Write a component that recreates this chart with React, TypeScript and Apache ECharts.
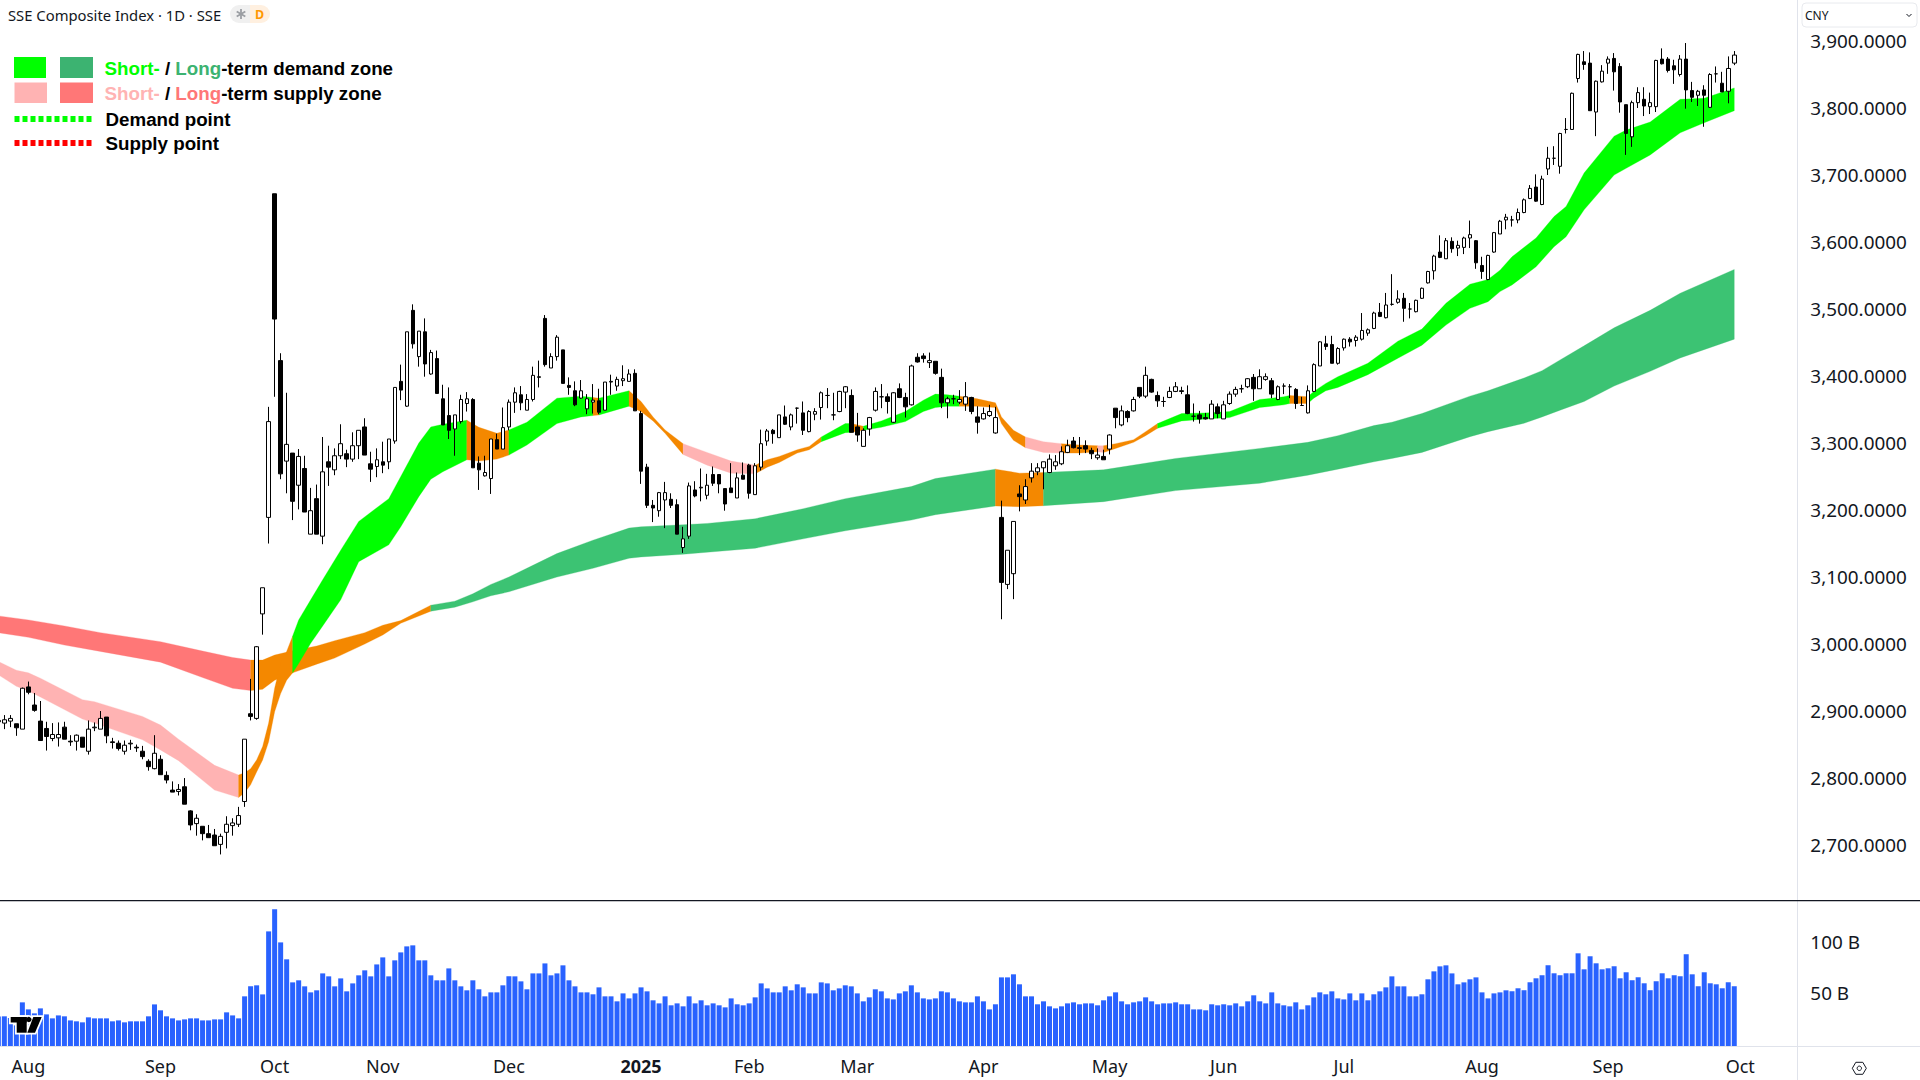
import React, { useEffect, useRef } from "react";
import * as echarts from "echarts";

const FONT = '"Noto Sans", sans-serif';
const LEGEND_FONT = '"Liberation Sans", Arial, sans-serif';
const INK = "#131722";

const priceTicks = [2700, 2800, 2900, 3000, 3100, 3200, 3300, 3400, 3500, 3600, 3700, 3800, 3900];
const volumeTicks = [50, 100];
const monthTicks: [number, string][] = [
  [4, "Aug"], [26, "Sep"], [45, "Oct"], [63, "Nov"], [84, "Dec"], [106, "2025"], [124, "Feb"],
  [142, "Mar"], [163, "Apr"], [184, "May"], [203, "Jun"], [223, "Jul"], [246, "Aug"], [267, "Sep"], [289, "Oct"],
];

// [open, close, low, high]; first row is the bar clipped by the left edge of the chart
const candles = [
  [2885,2887,2878,2892],
  [2883,2888,2874,2895],[2886,2890,2877,2895],[2882,2876,2864,2882],[2874,2935,2874,2936],[2937,2929,2926,2945],
  [2910,2902,2900,2928],[2886,2857,2857,2916],[2875,2863,2842,2885],[2860,2866,2856,2883],[2861,2866,2848,2884],
  [2877,2859,2859,2885],[2856,2855,2849,2865],[2856,2865,2842,2866],[2862,2847,2847,2862],[2841,2874,2836,2887],
  [2876,2877,2871,2884],[2874,2890,2874,2901],[2892,2864,2853,2892],[2855,2854,2845,2861],[2853,2845,2842,2857],
  [2841,2850,2836,2857],[2852,2853,2843,2858],[2847,2846,2840,2851],[2841,2833,2829,2849],[2826,2818,2812,2829],
  [2815,2838,2814,2865],[2829,2806,2806,2835],[2805,2798,2793,2811],[2783,2780,2780,2796],[2781,2784,2775,2792],
  [2788,2762,2762,2801],[2752,2731,2723,2753],[2733,2741,2715,2747],[2729,2718,2708,2729],[2718,2712,2712,2731],
  [2716,2700,2700,2725],[2702,2714,2687,2718],[2720,2732,2696,2744],[2730,2734,2715,2741],[2732,2745,2728,2758],
  [2766,2859,2758,2859],[2897,2893,2887,2949],[2890,2997,2888,2998],[3046,3085,3015,3085],[3190,3333,3151,3355],
  [3673,3486,3370,3673],[3424,3255,3247,3435],[3274,3299,3226,3376],[3286,3214,3186,3286],[3238,3281,3202,3292],
  [3263,3198,3198,3282],[3165,3200,3165,3234],[3218,3165,3165,3239],[3162,3258,3150,3310],[3273,3265,3237,3297],
  [3261,3282,3253,3293],[3282,3300,3277,3329],[3285,3277,3265,3291],[3277,3297,3273,3317],[3297,3320,3277,3320],
  [3325,3283,3283,3338],[3270,3262,3243,3288],[3266,3276,3250,3293],[3273,3268,3256,3303],[3273,3307,3262,3307],
  [3304,3384,3300,3384],[3393,3380,3365,3418],[3356,3467,3355,3467],[3499,3449,3442,3508],[3430,3468,3415,3468],
  [3467,3419,3400,3487],[3404,3436,3403,3440],[3427,3375,3375,3439],[3367,3328,3328,3388],[3342,3320,3307,3384],
  [3322,3343,3282,3343],[3333,3366,3330,3373],[3360,3367,3348,3377],[3366,3264,3264,3368],[3271,3261,3231,3281],
  [3252,3257,3251,3282],[3248,3307,3225,3307],[3306,3292,3292,3315],[3292,3324,3292,3354],[3325,3362,3320,3366],
  [3362,3376,3346,3384],[3373,3361,3350,3386],[3350,3366,3350,3374],[3366,3402,3363,3415],[3399,3400,3384,3424],
  [3487,3418,3415,3492],[3413,3430,3413,3435],[3430,3459,3424,3462],[3440,3390,3390,3440],[3387,3384,3373,3399],
  [3379,3358,3356,3393],[3368,3379,3367,3395],[3352,3367,3344,3374],[3362,3365,3345,3389],[3364,3347,3344,3382],
  [3350,3392,3350,3392],[3392,3393,3373,3403],[3386,3396,3379,3400],[3394,3397,3386,3417],[3393,3404,3393,3411],
  [3405,3349,3349,3411],[3345,3259,3240,3349],[3265,3208,3204,3270],[3208,3204,3183,3216],[3200,3227,3191,3228],
  [3216,3227,3174,3243],[3217,3208,3204,3226],[3209,3165,3165,3217],[3145,3158,3137,3176],[3162,3237,3158,3242],
  [3231,3222,3220,3244],[3234,3235,3214,3263],[3223,3238,3217,3255],[3254,3241,3237,3266],[3254,3240,3226,3254],
  [3233,3210,3200,3233],[3234,3227,3227,3271],[3219,3249,3219,3257],[3253,3247,3247,3272],[3268,3226,3218,3270],
  [3224,3267,3224,3271],[3265,3300,3260,3321],[3304,3319,3297,3322],[3320,3315,3300,3322],[3309,3343,3309,3343],
  [3340,3329,3328,3357],[3325,3343,3320,3345],[3353,3353,3330,3354],[3346,3320,3313,3363],[3318,3348,3317,3350],
  [3344,3348,3335,3353],[3354,3376,3336,3378],[3372,3372,3353,3383],[3343,3343,3335,3376],[3348,3378,3347,3379],
  [3377,3385,3353,3386],[3372,3317,3317,3381],[3325,3313,3303,3346],[3296,3320,3296,3323],[3322,3339,3312,3340],
  [3350,3378,3348,3384],[3370,3370,3353,3389],[3370,3363,3345,3375],[3332,3376,3331,3377],[3382,3369,3368,3390],
  [3369,3355,3339,3376],[3358,3416,3357,3418],[3429,3422,3421,3435],[3431,3427,3421,3435],[3421,3424,3413,3436],
  [3423,3405,3403,3423],[3399,3361,3353,3412],[3361,3367,3338,3370],[3367,3367,3359,3373],[3362,3366,3359,3380],
  [3359,3370,3349,3392],[3369,3348,3344,3370],[3340,3332,3315,3356],[3337,3345,3336,3354],[3342,3348,3340,3358],
  [3316,3339,3315,3355],[3190,3093,3038,3215],[3090,3141,3083,3141],[3106,3184,3068,3184],[3225,3221,3199,3238],
  [3216,3236,3210,3247],[3249,3259,3242,3271],[3258,3264,3253,3271],[3264,3273,3232,3273],[3257,3277,3256,3284],
  [3267,3273,3261,3283],[3270,3288,3268,3296],[3287,3297,3286,3306],[3304,3294,3293,3310],[3294,3293,3283,3310],
  [3297,3292,3286,3305],[3290,3285,3277,3294],[3279,3283,3276,3293],[3281,3276,3276,3291],[3292,3313,3284,3314],
  [3353,3339,3323,3353],[3328,3349,3326,3357],[3348,3339,3332,3350],[3349,3366,3348,3370],[3384,3371,3368,3384],
  [3371,3402,3368,3415],[3396,3377,3376,3397],[3372,3364,3355,3378],[3363,3363,3355,3370],[3369,3378,3368,3385],
  [3378,3385,3377,3392],[3379,3378,3374,3385],[3373,3345,3344,3387],[3341,3341,3333,3360],[3343,3337,3330,3349],
  [3339,3337,3336,3346],[3337,3359,3337,3365],[3355,3345,3338,3360],[3337,3358,3337,3364],[3360,3374,3358,3378],
  [3374,3381,3370,3385],[3382,3382,3376,3388],[3385,3397,3383,3398],[3399,3382,3364,3404],[3382,3400,3382,3411],
  [3396,3400,3394,3405],[3394,3374,3368,3398],[3366,3385,3365,3387],[3386,3386,3374,3390],[3385,3385,3368,3389],
  [3381,3360,3352,3383],[3357,3357,3357,3370],[3346,3379,3345,3387],[3378,3418,3377,3420],[3416,3452,3416,3453],
  [3449,3445,3440,3461],[3448,3420,3420,3461],[3420,3442,3418,3444],[3443,3456,3439,3457],[3456,3452,3445,3459],
  [3454,3459,3445,3462],[3456,3469,3454,3495],[3465,3470,3461,3472],[3472,3495,3471,3497],[3496,3490,3489,3510],
  [3488,3507,3487,3525],[3508,3508,3506,3553],[3511,3516,3509,3529],[3517,3502,3482,3525],[3501,3501,3487,3510],
  [3497,3514,3496,3515],[3517,3532,3516,3533],[3540,3557,3539,3558],[3558,3580,3545,3582],[3586,3578,3577,3611],
  [3576,3603,3576,3607],[3602,3591,3585,3608],[3592,3596,3580,3603],[3593,3607,3583,3609],[3607,3612,3592,3633],
  [3603,3570,3561,3604],[3566,3557,3546,3579],[3545,3581,3544,3582],[3586,3615,3585,3616],[3613,3632,3613,3634],
  [3634,3638,3620,3643],[3634,3634,3624,3640],[3634,3645,3629,3651],[3645,3664,3644,3666],[3666,3681,3665,3686],
  [3683,3662,3661,3702],[3657,3695,3656,3700],[3710,3726,3701,3743],[3726,3726,3716,3744],[3714,3763,3703,3764],
  [3769,3769,3763,3786],[3769,3823,3769,3824],[3845,3881,3839,3882],[3870,3866,3858,3886],[3868,3797,3797,3884],
  [3795,3841,3759,3842],[3840,3856,3839,3865],[3868,3874,3852,3878],[3875,3855,3827,3883],[3863,3810,3794,3868],
  [3806,3763,3731,3806],[3758,3809,3743,3812],[3809,3824,3801,3832],[3814,3804,3789,3832],[3803,3809,3792,3824],
  [3803,3872,3795,3873],[3874,3867,3866,3890],[3874,3857,3854,3877],[3864,3858,3837,3873],[3851,3874,3848,3880],
  [3874,3828,3800,3898],[3827,3817,3810,3840],[3820,3826,3804,3828],[3828,3820,3773,3835],[3802,3851,3801,3853],
  [3852,3852,3839,3863],[3838,3825,3825,3855],[3826,3860,3808,3878],[3868,3880,3865,3886],
];

const volumes = [
  29,
  29.1,27.4,20.2,42.8,35.9,32,36.9,31,27.1,30,
  29.1,25.1,24.2,23.2,28.1,27.1,27.1,27.1,24.2,25.1,
  23.2,24.2,24.2,24.2,29.1,40.8,35,29.1,27.1,25.1,
  26.1,27.1,27.1,25.1,25.1,26.1,26.1,33,30,27.1,
  48.7,58.5,59.5,50.6,112.4,134,101.6,85,62.4,64.4,
  58.5,52.6,54.6,71.2,68.3,58.5,66.3,53.6,61.4,69.3,
  74.2,68.3,80,86.9,68.3,84,91.8,97.7,98.7,84,
  84,69.3,64.4,64.4,76.1,64.4,58.5,54.6,64.4,55.6,
  48.7,52.6,52.6,59.5,68.3,68.3,63.4,55.6,71.2,71.2,
  81,69.3,71.2,79.1,64.4,58.5,52.6,52.6,50.7,57.5,
  48.7,48.7,43.8,51.6,46.7,51.6,57.5,53.6,44.8,41.8,
  48.7,39.9,41.8,38.9,48.7,41.8,44.8,39.9,41.8,39.9,
  37.9,46.7,40.9,39.9,41.8,47.7,61.4,56.5,52.6,52.6,
  58.5,54.6,60.5,57.5,51.6,51.6,62.4,61.4,54.6,56.5,
  59.5,58.5,51.6,43.8,47.7,55.6,53.6,46.7,45.7,51.6,
  53.6,59.5,52.6,46.7,45.7,46.7,53.6,52.6,46.7,43.8,
  42.8,42.8,48.7,43.8,35.9,40.9,67.3,67.3,70.3,60.5,
  48.7,48.7,40.9,43.8,38.9,36.9,38.9,41.8,42.8,40.9,
  41.8,41.8,39.9,44.8,48.7,52.6,43.8,40.9,42.8,43.8,
  47.7,43.8,40.9,41.8,41.8,42.8,40.9,40.9,35.9,35.9,
  35,40.9,39.9,40.9,39.9,41.8,38.9,43.8,49.7,43.8,
  41.8,52.6,41.8,39.9,38.9,42.8,35.9,39.9,47.7,52.6,
  50.7,53.6,46.7,45.7,51.6,44.8,51.6,44.8,50.7,53.6,
  57.5,68.3,58.5,58.5,48.7,48.7,50.7,65.4,73.2,78.1,
  79.1,71.2,60.5,62.4,65.4,67.3,52.6,46.7,51.6,52.6,
  54.6,53.7,56.6,54.7,62.5,66.4,69.4,79.2,71.3,69.4,
  71.3,71.3,90.9,75.2,88,81.1,75.2,76.2,78.2,66.4,
  72.3,64.5,67.4,61.5,54.7,63.5,71.3,66.4,69.4,68.4,
  90,70.3,58.6,72.3,61.5,60.5,56.6,62.5,58.6,
];

// Zones: bar number (0 = first whole bar), upper edge, lower edge
const shortZone = [
  [-1,2975,2955],[2,2962,2938],[4,2958,2931],[6,2950,2922],[13,2918,2889],[15,2915,2883],[23,2893,2858],[26,2880,2843],
  [29,2859,2827],[35,2820,2783],[39,2805.5,2772],[40,2809,2779],[41,2815,2791],[42,2828,2810],[43,2848,2828],[44,2883,2855],
  [45,2935,2900],[46,2972,2927],[47,2990,2947],[48,3013,2958],[49,3037,2972],[51,3067,3002],[53,3097,3028],[56,3141,3067],
  [59,3184,3124],[64,3218,3149],[66,3251,3176],[69,3301,3221],[71,3325,3247],[73,3329,3258],[77,3335,3276],[79,3324.5,3274],
  [82,3315.5,3277],[84,3320.5,3283],[87,3332,3298],[92,3368,3330],[96,3371,3340],[98,3369,3342],[99,3368,3343],[104,3379,3356],
  [106,3363,3348],[108,3340,3334],[110,3320.5,3315.5],[113,3300,3284],[117,3287,3268],[121,3274,3256],[125,3268,3255],
  [127,3276,3265],[129,3281,3272],[132,3291,3286],[134,3296,3291],[136,3310,3303],[140,3330,3316.5],[141,3330,3317],
  [143,3326,3320],[146,3334,3324.5],[150,3348,3333],[153,3365,3348],[155,3374,3354],[157,3373,3356],[159,3371,3356],
  [162,3367,3356],[165,3361,3354],[166,3340,3330],[168,3320,3305],[170,3310,3294],[173,3303,3287],[176,3300,3286],
  [179,3298,3286],[182,3297,3288],[183,3297,3287],[185,3300,3293],[188,3306,3302],[190,3318,3312],[192,3330,3323],
  [196,3345,3334],[200,3346,3337],[204,3348,3339],[209,3366,3354],[213,3370,3358],[214,3372,3360],[217,3370,3360],
  [218,3378,3368],[220,3390,3379],[222,3400,3384],[227,3420,3403],[232,3453,3427.5],[236,3471,3447],[240,3509.5,3477],[244,3538,3502],
  [247,3545,3512],[249,3559,3527],[251,3579,3537],[255,3607,3564],[258,3639,3594],[260,3654,3609],[263,3704,3649],[268,3759,3701],
  [270,3768,3711],[274,3780,3731],[279,3814,3764],[283,3815.5,3779],[288,3831,3797],
];
const longZone = [
  [-1,3043,3018],[4,3037,3011],[10,3028,2999.5],[16,3018,2990],[26,3004.5,2974],[33,2990.5,2951],[38,2981,2935],[41,2977,2931.5],
  [43,2977,2933.5],[45,2984.5,2947],[48,2991,2958],[52,2998,2971],[55,3006,2980],[60,3018,3001],[63,3029,3014.5],[66,3036,3032],
  [71,3059,3050],[75,3065,3056],[78,3076,3064],[81,3090,3073],[84,3101,3079],[92,3136,3101],[98,3156,3114],[104,3174,3129],
  [106,3176,3131],[113,3179,3135],[117,3181,3138],[125,3188,3144],[133,3203,3158],[140,3218,3170],[151,3236,3186],[155,3248,3194],
  [165,3262,3207],[169,3256,3206],[173,3257,3207.5],[183,3261,3213.5],[195,3278,3230],[209,3293,3241],[217,3302,3253],[222,3312,3262],
  [228,3327,3273],[231,3332,3278],[236,3345,3287],[244,3371,3310.5],[247,3379,3318],[253,3398,3330.5],[256,3409,3340],[259,3425,3350],
  [263,3446,3363],[268,3473,3386],[274,3499,3408],[279,3524.5,3428],[288,3560,3456],
];
// Zone colour by stretch of bars: [from bar, to bar, state]
const shortStates: [number, number, string][] = [
  [-1,39,"supply"],[39,48,"mixed"],[48,77,"demand"],[77,84,"mixed"],[84,98,"demand"],[98,99,"mixed"],[99,104,"demand"],
  [104,113,"mixed"],[113,125,"supply"],[125,136,"mixed"],[136,141,"demand"],[141,143,"mixed"],[143,159,"demand"],
  [159,170,"mixed"],[170,176,"supply"],[176,182,"mixed"],[182,183,"supply"],[183,192,"mixed"],[192,214,"demand"],
  [214,217,"mixed"],[217,288,"demand"],
];
const longStates: [number, number, string][] = [
  [-1,41,"supply"],[41,71,"mixed"],[71,165,"demand"],[165,173,"mixed"],[173,288,"demand"],
];

const shortColors: Record<string, string> = { supply: "#FFB3B3", mixed: "#F48800", demand: "#00FF00" };
const longColors: Record<string, string> = { supply: "#FF7777", mixed: "#F48800", demand: "#3CC373" };

const BLANK_BARS = 10;
const BAR_OFFSET = 1;
const categories = Array.from({ length: candles.length + BLANK_BARS }, () => "");
monthTicks.forEach(([bar, label]) => { categories[bar + BAR_OFFSET] = label; });

function zoneSeries(name: string, zone: number[][], states: [number, number, string][], colors: Record<string, string>) {
  return {
    type: "custom",
    name,
    xAxisIndex: 0,
    yAxisIndex: 0,
    z: 1,
    silent: true,
    clip: true,
    data: states.map((_, i) => [i]),
    encode: { x: -1, y: -1 },
    renderItem: (params: any, api: any) => {
      const [from, to, state] = states[params.dataIndex];
      const knots = zone.filter((k) => k[0] >= from && k[0] <= to);
      const top = knots.map((k) => api.coord([k[0] + BAR_OFFSET, k[1]]));
      const bottom = knots.map((k) => api.coord([k[0] + BAR_OFFSET, k[2]])).reverse();
      return {
        type: "polygon",
        shape: { points: top.concat(bottom) },
        style: { fill: colors[state], stroke: colors[state], lineWidth: 0.3 },
      };
    },
  };
}

function legendRich(size: number) {
  const base = { fontFamily: LEGEND_FONT, fontSize: size, fontWeight: "bold" as const };
  return {
    sg: { ...base, fill: "#00FF00" },
    lg: { ...base, fill: "#3CB371" },
    sp: { ...base, fill: "#FFB3B3" },
    lp: { ...base, fill: "#FF7777" },
    k: { ...base, fill: "#000000" },
  };
}

// The chart's div hangs 5px off the page so that the first, clipped bar has room on the grid
const PAGE_SHIFT = 5;

export default function App() {
  const ref = useRef<HTMLDivElement>(null);
  useEffect(() => {
    const chart = echarts.init(ref.current!, undefined, { renderer: "svg" });
    const legendText = (x: number, y: number, text: string) => ({
      type: "text", x, y, z: 50,
      style: { text, rich: legendRich(18.75), verticalAlign: "middle", align: "left" },
    });
    const swatch = (x: number, y: number, w: number, h: number, fill: string) => ({
      type: "rect", z: 50, shape: { x, y, width: w, height: h }, style: { fill },
    });
    const dots = (y: number, stroke: string) => ({
      type: "line", z: 50, shape: { x1: 14.5, y1: y, x2: 92.5, y2: y },
      style: { stroke, lineWidth: 6, lineDash: [5, 3] },
    });
    const logoShapes = (z: number, style: any) => [
      { type: "rect", z, shape: { x: 10.7, y: 1017, width: 16, height: 5.4 }, style },
      { type: "rect", z, shape: { x: 16.7, y: 1017, width: 10, height: 15.7 }, style },
      { type: "circle", z, shape: { cx: 28.8, cy: 1019.5, r: 2.7 }, style },
      { type: "polygon", z, shape: { points: [[41.7, 1017], [33.3, 1017], [27.3, 1032.7], [35, 1032.7]] }, style },
    ];
    chart.setOption({
      animation: false,
      backgroundColor: "#ffffff",
      grid: [
        { left: 0.33, width: 1802, top: 0, height: 901 },
        { left: 0.33, width: 1802, top: 901, height: 145 },
      ],
      xAxis: [
        { type: "category", gridIndex: 0, data: categories, boundaryGap: true, axisLine: { show: false }, axisTick: { show: false }, axisLabel: { show: false }, splitLine: { show: false } },
        {
          type: "category", gridIndex: 1, data: categories, boundaryGap: true, position: "bottom",
          axisLine: { show: false }, axisTick: { show: false }, splitLine: { show: false },
          axisLabel: {
            interval: (_: number, v: string) => v !== "",
            margin: 11,
            color: INK,
            fontFamily: FONT,
            fontSize: 18,
            formatter: (v: string) => (v === "2025" ? "{b|2025}" : v),
            rich: { b: { fontFamily: FONT, fontSize: 18, fontWeight: "bold", color: INK } },
          },
        },
      ],
      yAxis: [
        {
          type: "value", gridIndex: 0, position: "right", min: 2617.5, max: 3962.2, scale: true,
          axisLine: { show: false }, axisTick: { show: false }, splitLine: { show: false },
          axisLabel: {
            customValues: priceTicks,
            margin: 13,
            color: INK,
            fontFamily: FONT,
            fontSize: 18.9,
            verticalAlign: "bottom",
            lineHeight: 2,
            formatter: (v: number) => v.toLocaleString("en-US", { minimumFractionDigits: 4, maximumFractionDigits: 4 }),
          },
        },
        {
          type: "value", gridIndex: 1, position: "right", min: 0, max: 142.2,
          axisLine: { show: false }, axisTick: { show: false }, splitLine: { show: false },
          axisLabel: {
            customValues: volumeTicks,
            margin: 13,
            color: INK,
            fontFamily: FONT,
            fontSize: 18.9,
            verticalAlign: "bottom",
            lineHeight: 5,
            formatter: (v: number) => `${v} B`,
          },
        },
      ],
      series: [
        zoneSeries("Long-term zone", longZone, longStates, longColors),
        zoneSeries("Short-term zone", shortZone, shortStates, shortColors),
        {
          type: "candlestick",
          name: "SSE Composite Index",
          xAxisIndex: 0,
          yAxisIndex: 0,
          z: 3,
          barWidth: 4,
          data: candles,
          itemStyle: { color: "#ffffff", color0: "#000000", borderColor: "#000000", borderColor0: "#000000", borderColorDoji: "#000000", borderWidth: 1 },
        },
        {
          type: "bar",
          name: "Volume",
          xAxisIndex: 1,
          yAxisIndex: 1,
          barWidth: 5,
          data: volumes,
          itemStyle: { color: "#2962FF" },
        },
      ],
      graphic: [
        {
          type: "group",
          x: PAGE_SHIFT,
          y: 0,
          children: [
            { type: "line", z: 40, shape: { x1: 1797.5, y1: 0, x2: 1797.5, y2: 1080 }, style: { stroke: "#E0E3EB", lineWidth: 1 } },
            { type: "line", z: 40, shape: { x1: 0, y1: 900.7, x2: 1920, y2: 900.7 }, style: { stroke: "#131722", lineWidth: 1.2 } },
            { type: "line", z: 40, shape: { x1: 0, y1: 1046.5, x2: 1920, y2: 1046.5 }, style: { stroke: "#E0E3EB", lineWidth: 1 } },

            { type: "text", x: 8, y: 14.5, z: 50, style: { text: "SSE Composite Index · 1D · SSE", fontFamily: FONT, fontSize: 14.8, fill: INK, verticalAlign: "middle" } },
            { type: "rect", z: 50, shape: { x: 230, y: 5, width: 20, height: 18, r: [9, 0, 0, 9] }, style: { fill: "#F0F0F0" } },
            { type: "rect", z: 50, shape: { x: 250, y: 5, width: 20, height: 18, r: [0, 9, 9, 0] }, style: { fill: "#FFF0E0" } },
            { type: "line", z: 51, shape: { x1: 241, y1: 9, x2: 241, y2: 19 }, style: { stroke: "#9B9EA3", lineWidth: 1.8 } },
            { type: "line", z: 51, shape: { x1: 236.7, y1: 11.5, x2: 245.3, y2: 16.5 }, style: { stroke: "#9B9EA3", lineWidth: 1.8 } },
            { type: "line", z: 51, shape: { x1: 236.7, y1: 16.5, x2: 245.3, y2: 11.5 }, style: { stroke: "#9B9EA3", lineWidth: 1.8 } },
            { type: "text", x: 259.5, y: 14.5, z: 51, style: { text: "D", fontFamily: FONT, fontSize: 12.5, fontWeight: "bold", fill: "#FF9800", align: "center", verticalAlign: "middle" } },

            swatch(14, 57, 32, 21, "#00FF00"),
            swatch(60, 57, 33, 21, "#3CB371"),
            swatch(14.5, 82.5, 32.5, 20.5, "#FFB3B3"),
            swatch(60, 82.5, 33, 20.5, "#FF7777"),
            dots(119, "#00FF00"),
            dots(143, "#FF0000"),
            legendText(104.5, 68, "{sg|Short-}{k| / }{lg|Long}{k|-term demand zone}"),
            legendText(104.5, 93, "{sp|Short-}{k| / }{lp|Long}{k|-term supply zone}"),
            legendText(105.5, 119, "{k|Demand point}"),
            legendText(105.5, 143, "{k|Supply point}"),

            { type: "rect", z: 50, shape: { x: 1802, y: 3, width: 115, height: 24, r: 4 }, style: { fill: "#ffffff", stroke: "#E8EAEE", lineWidth: 1 } },
            { type: "text", x: 1805, y: 15, z: 51, style: { text: "CNY", fontFamily: FONT, fontSize: 12, fill: INK, verticalAlign: "middle" } },
            { type: "polyline", z: 51, shape: { points: [[1906.5, 14], [1909, 16.5], [1911.5, 14]] }, style: { stroke: INK, lineWidth: 1, fill: "none" } },

            { type: "polygon", z: 51, shape: { points: [[1852.3, 1068.3], [1855.8, 1062.3], [1862.8, 1062.3], [1866.3, 1068.3], [1862.8, 1074.3], [1855.8, 1074.3]] }, style: { fill: "#ffffff", stroke: INK, lineWidth: 1 } },
            { type: "circle", z: 52, shape: { cx: 1859.3, cy: 1068.3, r: 2.2 }, style: { fill: "#ffffff", stroke: INK, lineWidth: 1 } },

            ...logoShapes(60, { fill: "#ffffff", stroke: "#ffffff", lineWidth: 3.5 }),
            ...logoShapes(61, { fill: "#000000" }),
          ],
        },
      ],
    });
    return () => chart.dispose();
  }, []);
  return <div ref={ref} style={{ position: "fixed", left: -PAGE_SHIFT, top: 0, width: 1920 + PAGE_SHIFT, height: 1080 }} />;
}
